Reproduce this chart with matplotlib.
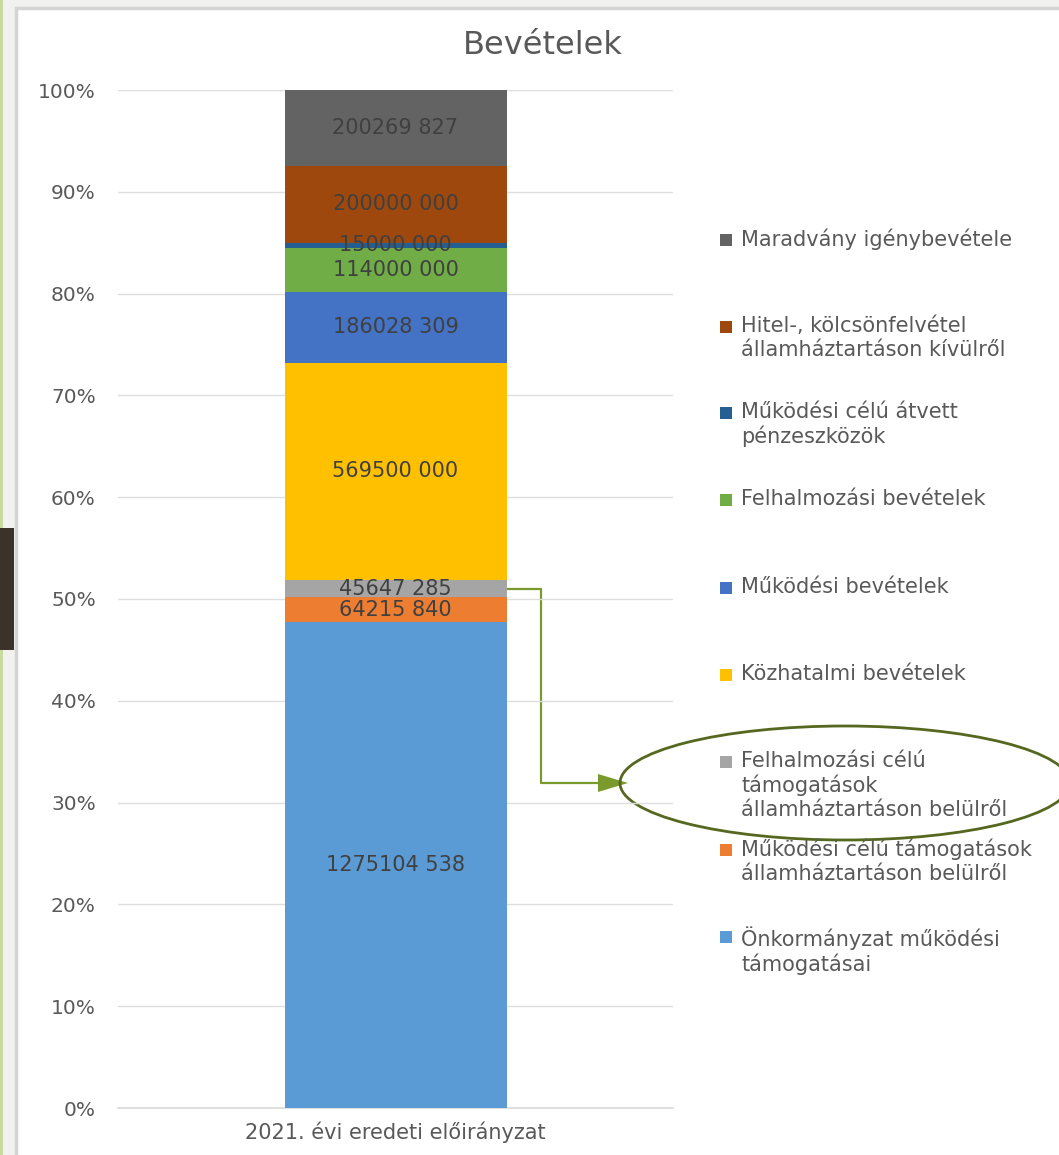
import matplotlib
matplotlib.use("Agg")
import matplotlib.pyplot as plt
from matplotlib.patches import Rectangle, Ellipse
from matplotlib.lines import Line2D

plt.rcParams['font.family'] = ['DejaVu Sans']

# ---- data (bottom to top) ----
categories = ["2021. évi eredeti előirányzat"]
series_names = [
    "Önkormányzat működési\ntámogatásai",
    "Működési célú támogatások\nállamháztartáson belülről",
    "Felhalmozási célú\ntámogatások\nállamháztartáson belülről",
    "Közhatalmi bevételek",
    "Működési bevételek",
    "Felhalmozási bevételek",
    "Működési célú átvett\npénzeszközök",
    "Hitel-, kölcsönfelvétel\nállamháztartáson kívülről",
    "Maradvány igénybevétele",
]
series_values = [1275104538, 64215840, 45647285, 569500000, 186028309,
                 114000000, 15000000, 200000000, 200269827]
series_colors = ["#5B9BD5", "#ED7D31", "#A5A5A5", "#FFC000", "#4472C4",
                 "#70AD47", "#255E91", "#9E480E", "#636363"]
y_ticks = [0, 10, 20, 30, 40, 50, 60, 70, 80, 90, 100]
title = "Bevételek"

W, H = 1059, 1155
fig = plt.figure(figsize=(W / 100, H / 100), dpi=100)
fig.patch.set_facecolor("#F1F1F0")

def fx(px):
    return px / W

def fy(py):
    return 1 - py / H

# slide decorations
fig.patches.append(Rectangle((fx(16), fy(1200)), fx(1100), fy(8) - fy(1200),
                             transform=fig.transFigure, facecolor="white",
                             edgecolor="#D4D4D4", linewidth=2.5, zorder=-2))
fig.patches.append(Rectangle((0, 0), fx(3), 1, transform=fig.transFigure,
                             facecolor="#C9DA9E", edgecolor="none", zorder=-1))
fig.patches.append(Rectangle((0, fy(650)), fx(14), fy(528) - fy(650),
                             transform=fig.transFigure, facecolor="#3B3229",
                             edgecolor="none", zorder=-1))

ax = fig.add_axes([fx(118), fy(1108), fx(673) - fx(118), fy(90) - fy(1108)])
ax.set_facecolor("none")
ax.set_zorder(2)

total = sum(series_values)
bottom = 0.0
mids = []
for name, val, col in zip(series_names, series_values, series_colors):
    pct = val / total * 100
    ax.bar(0, pct, width=0.4, bottom=bottom, color=col, zorder=3)
    mid = bottom + pct / 2
    mids.append(mid)
    lab = f"{val // 1000} {val % 1000:03d}"
    ax.text(0, mid, lab, ha="center", va="center", fontsize=15,
            color="#404040", zorder=4)
    bottom += pct

ax.set_xlim(-0.5, 0.5)
ax.set_ylim(0, 100)
ax.set_yticks(y_ticks)
ax.set_yticklabels([f"{t}%" for t in y_ticks], fontsize=14.5, color="#595959")
ax.set_xticks([0])
ax.set_xticklabels(categories, fontsize=15, color="#595959")
ax.tick_params(length=0, axis="y", pad=16)
ax.tick_params(length=0, axis="x", pad=10)
ax.grid(axis="y", color="#DEDEDE", linewidth=1.0, zorder=0)
for s in ["left", "right", "top"]:
    ax.spines[s].set_visible(False)
ax.spines["bottom"].set_color("#D9D9D9")
ax.spines["bottom"].set_linewidth(1.2)

fig.text(fx(543), fy(45), title, ha="center", va="center", fontsize=23,
         color="#595959")

# legend (manual, top to bottom)
legend_y = [240, 327, 413, 500, 588, 675, 762, 850, 937]
for name, col, ly in zip(series_names[::-1], series_colors[::-1], legend_y):
    fig.patches.append(Rectangle((fx(720), fy(ly + 6)), fx(12), fy(ly - 6) - fy(ly + 6),
                                 transform=fig.transFigure, facecolor=col,
                                 edgecolor="none"))
    fig.text(fx(741), fy(ly - 11), name, ha="left", va="top", fontsize=15,
             color="#595959", linespacing=1.22)

# annotation arrow from grey segment to its legend entry
gray_idx = 2
fig.canvas.draw()
x0, y0 = ax.transData.transform((0.2, mids[gray_idx]))
ycorner = y0 / H
arrow_col = "#7A9A2E"
fig.add_artist(Line2D([x0 / W, fx(541), fx(541), fx(600)],
                      [ycorner, ycorner, fy(783), fy(783)],
                      transform=fig.transFigure, color=arrow_col, linewidth=1.6))
fig.add_artist(plt.Polygon([[fx(598), fy(774)], [fx(628), fy(783)], [fx(598), fy(792)]],
                           closed=True, transform=fig.transFigure,
                           facecolor=arrow_col, edgecolor="none"))
fig.add_artist(Ellipse((fx(845), fy(783)), fx(450), fy(0) - fy(114),
                       transform=fig.transFigure, facecolor="none",
                       edgecolor="#56681F", linewidth=2.0))

fig.savefig("out.png", dpi=100, facecolor=fig.get_facecolor())
